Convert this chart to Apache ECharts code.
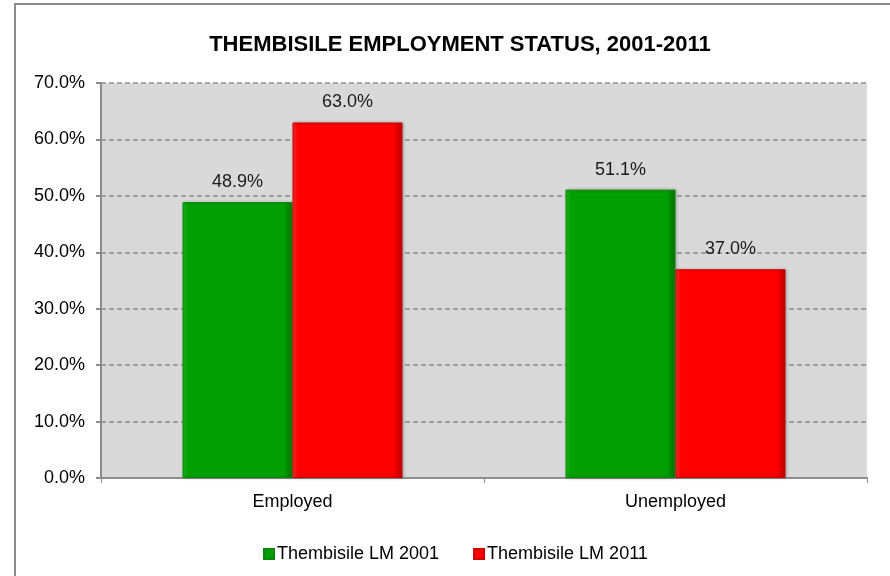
<!DOCTYPE html>
<html>
<head>
<meta charset="utf-8">
<script src="https://cdn.jsdelivr.net/npm/echarts@6/dist/echarts.min.js"></script>
<style>
  html, body { margin: 0; padding: 0; background: #fff; }
  #chart { width: 890px; height: 576px; }
</style>
</head>
<body>
<div id="chart"></div>
<script>
// Employment status categories and shares per census year
const categories = ['Employed', 'Unemployed'];
const series2001 = [0.489, 0.511];
const series2011 = [0.630, 0.370];
const seriesNames = ['Thembisile LM 2001', 'Thembisile LM 2011'];
const yTicks = { min: 0, max: 0.7, step: 0.1 };

const FONT = '"Liberation Sans", Arial, sans-serif';

// Horizontal gradient giving the bars a slightly bevelled edge
function bevel(light, mid, dark) {
  return {
    type: 'linear', x: 0, y: 0, x2: 1, y2: 0,
    colorStops: [
      { offset: 0, color: light },
      { offset: 0.05, color: mid },
      { offset: 0.92, color: mid },
      { offset: 1, color: dark }
    ]
  };
}

const chart = echarts.init(document.getElementById('chart'), null, { renderer: 'canvas' });

const labelOpt = {
  show: true,
  position: 'top',
  distance: 11,
  fontFamily: FONT,
  fontSize: 18,
  color: '#1a1a1a',
  formatter: p => (p.value * 100).toFixed(1) + '%'
};

chart.setOption({
  backgroundColor: '#fff',
  animation: false,
  graphic: [{
    type: 'rect',
    shape: { x: 15, y: 4, width: 900, height: 600 },
    style: { fill: 'none', stroke: '#8c8c8c', lineWidth: 2 },
    z: -10
  }],
  title: {
    text: 'THEMBISILE EMPLOYMENT STATUS, 2001-2011',
    left: 455, top: 29, textAlign: 'center',
    textStyle: { fontFamily: FONT, fontSize: 22, fontWeight: 'bold', color: '#000' }
  },
  legend: {
    data: seriesNames,
    left: 258, top: 540, orient: 'horizontal',
    align: 'left',
    icon: 'rect', itemWidth: 10, itemHeight: 10, itemGap: 34,
    textStyle: { fontFamily: FONT, fontSize: 18, color: '#000', padding: [0, 0, 0, -2] }
  },
  grid: {
    left: 101, right: 23, top: 83, bottom: 98,
    show: true, backgroundColor: '#d9d9d9', borderWidth: 0
  },
  xAxis: {
    type: 'category',
    data: categories,
    axisLine: { show: true, lineStyle: { color: '#8c8c8c', width: 2 } },
    axisTick: { show: true, length: 5, lineStyle: { color: '#8c8c8c', width: 1 } },
    axisLabel: { fontFamily: FONT, fontSize: 18, color: '#000', margin: 15 }
  },
  yAxis: {
    type: 'value',
    min: yTicks.min, max: yTicks.max, interval: yTicks.step,
    axisLine: { show: true, lineStyle: { color: '#8c8c8c', width: 2 } },
    axisTick: { show: true, length: 5, lineStyle: { color: '#8c8c8c', width: 2 } },
    axisLabel: {
      fontFamily: FONT, fontSize: 18, color: '#000', margin: 16,
      formatter: v => (v * 100).toFixed(1) + '%'
    },
    splitLine: { show: true, lineStyle: { color: '#8a8a8a', type: [5, 3], width: 1.5 } }
  },
  series: [
    {
      name: seriesNames[0], type: 'bar', data: series2001,
      barWidth: 110, barGap: '0%',
      itemStyle: {
        color: bevel('#1cc01c', '#02a002', '#027002'),
        borderColor: '#0a8a0a', borderWidth: 1,
        shadowColor: 'rgba(0,0,0,0.25)', shadowBlur: 3, shadowOffsetX: 1
      },
      label: labelOpt
    },
    {
      name: seriesNames[1], type: 'bar', data: series2011,
      barWidth: 110, barGap: '0%',
      itemStyle: {
        color: bevel('#ff3030', '#ff0000', '#b80000'),
        borderColor: '#d00000', borderWidth: 1,
        shadowColor: 'rgba(0,0,0,0.25)', shadowBlur: 3, shadowOffsetX: 1
      },
      label: labelOpt
    }
  ]
});
</script>
</body>
</html>
